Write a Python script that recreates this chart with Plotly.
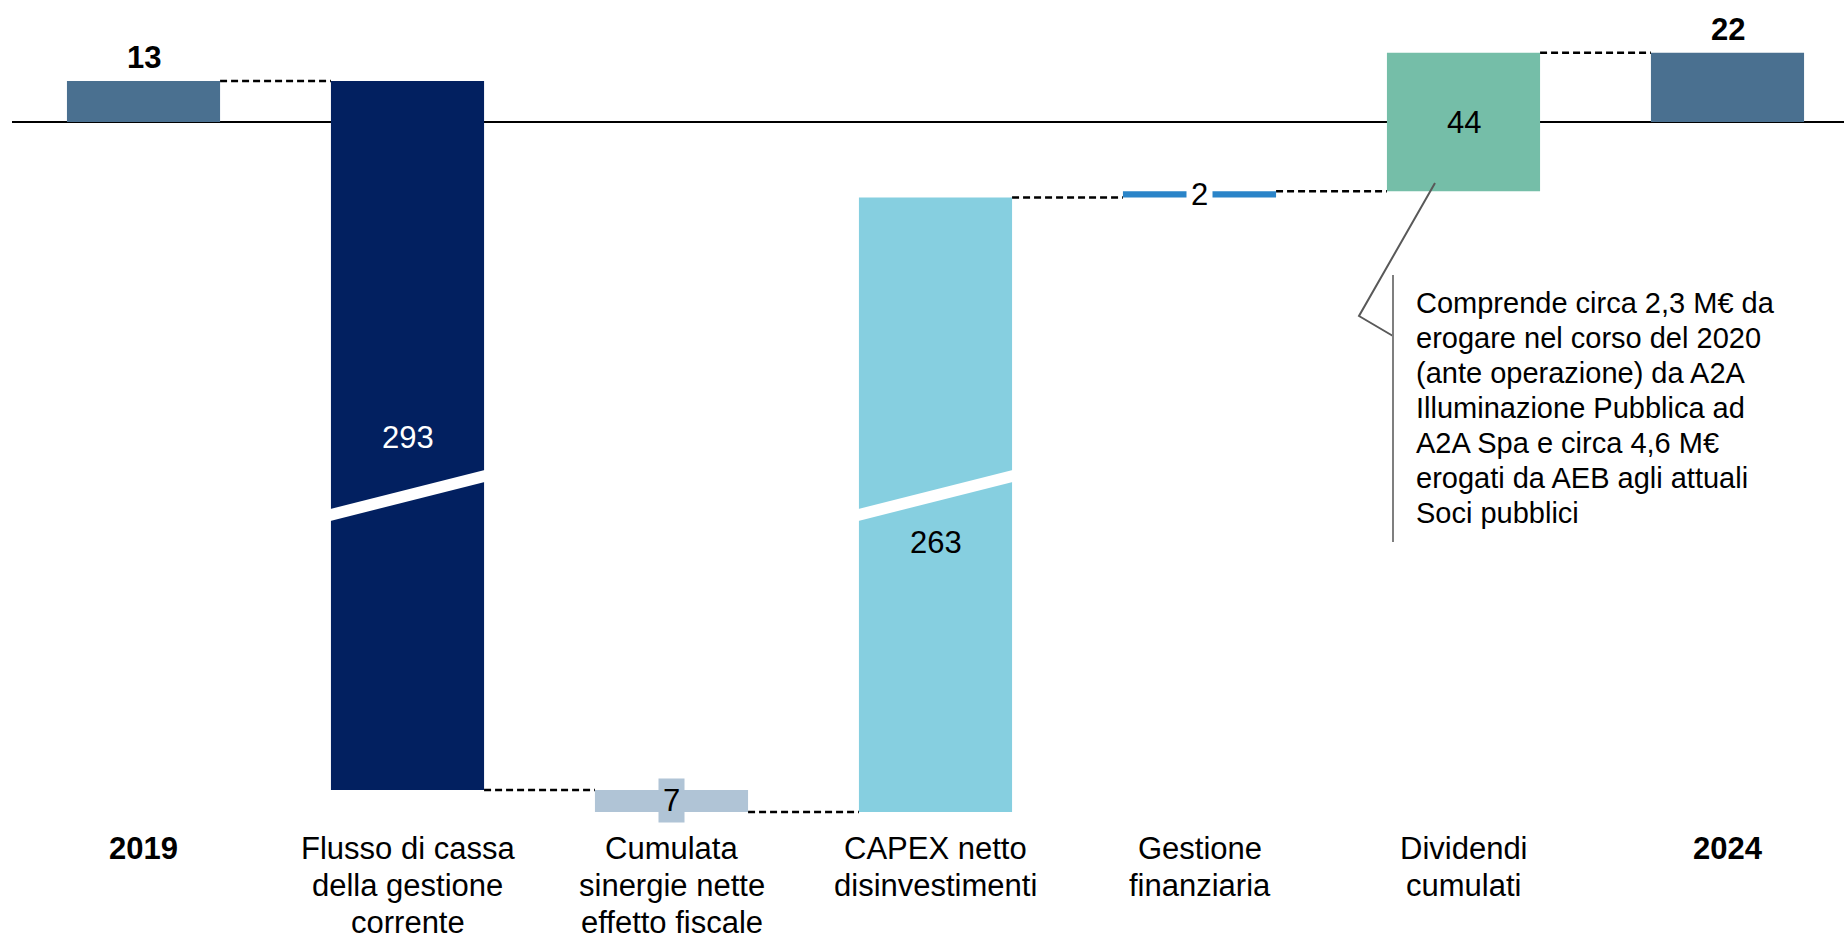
import plotly.graph_objects as go

# ---------------- data ----------------
categories = ["<b>2019</b>", "Flusso di cassa<br>della gestione<br>corrente",
              "Cumulata<br>sinergie nette<br>effetto fiscale", "CAPEX netto<br>disinvestimenti",
              "Gestione<br>finanziaria", "Dividendi<br>cumulati", "<b>2024</b>"]
values = [13, -293, -7, 263, 2, 44, 22]
measures = ["total", "relative", "relative", "relative", "relative", "relative", "total"]
value_labels = ["13", "293", "7", "263", "2", "44", "22"]
bar_colors = ["#4a7090", "#022060", "#b0c4d6", "#86cfe0", "#2a84c8", "#75bea8", "#4a7090"]
note_lines = ["Comprende circa 2,3 M€ da", "erogare nel corso del 2020",
              "(ante operazione) da A2A", "Illuminazione Pubblica ad",
              "A2A Spa e circa 4,6 M€", "erogati da AEB agli attuali", "Soci pubblici"]

# ---------------- layout constants ----------------
W, H = 1844, 943
X_RANGE = [-0.5436, 6.4413]
Y_RANGE = [-260.6, 38.73]
BAR_W = 0.58
BREAK_AT = -150      # values below this are shifted up (broken axis)
BREAK_GAP = 68       # amount of axis removed by the break
FONT = "Liberation Sans, Arial, sans-serif"


def disp(v):
    return v + BREAK_GAP if v < BREAK_AT else v


def px2x(px):
    return X_RANGE[0] + px / W * (X_RANGE[1] - X_RANGE[0])


def px2y(py):
    return Y_RANGE[1] - py / H * (Y_RANGE[1] - Y_RANGE[0])


# waterfall levels
starts, ends = [], []
level = 0
for v, m in zip(values, measures):
    if m == "total":
        s, e = 0, v
        level = v
    else:
        s, e = level, level + v
        level = e
    starts.append(s)
    ends.append(e)

xs = list(range(len(categories)))
bases = [disp(s) for s in starts]
heights = [disp(e) - disp(s) for s, e in zip(starts, ends)]

fig = go.Figure()
fig.add_trace(go.Bar(
    x=xs, y=heights, base=bases, width=BAR_W,
    marker=dict(color=bar_colors, line=dict(width=0)),
    hoverinfo="skip", showlegend=False,
))

shapes = []
# baseline
shapes.append(dict(type="line", xref="paper", yref="y", x0=12 / W, x1=1, y0=0, y1=0,
                   line=dict(color="black", width=2), layer="below"))
# connectors
for i in range(len(xs) - 1):
    lvl = disp(ends[i])
    shapes.append(dict(type="line", xref="x", yref="y",
                       x0=xs[i] + BAR_W / 2, x1=xs[i + 1] - BAR_W / 2, y0=lvl, y1=lvl,
                       line=dict(color="black", width=2.5, dash="7px,4px"), layer="below"))
# axis-break stripes on the bars that cross the break
BRK_L, BRK_R, BRK_T = -124.9, -112.2, 3.8
for i in xs:
    lo, hi = sorted([starts[i], ends[i]])
    if lo < BREAK_AT < hi:
        x0, x1 = xs[i] - BAR_W / 2 - 0.01, xs[i] + BAR_W / 2 + 0.01
        path = (f"M {x0},{BRK_L + BRK_T / 2} L {x1},{BRK_R + BRK_T / 2} "
                f"L {x1},{BRK_R - BRK_T / 2} L {x0},{BRK_L - BRK_T / 2} Z")
        shapes.append(dict(type="path", xref="x", yref="y", path=path,
                           fillcolor="white", line=dict(width=0), layer="above"))

# callout leader
p1, p2, p3 = (1435, 183), (1359, 316), (1393, 336)
shapes.append(dict(type="path", xref="x", yref="y",
                   path=f"M {px2x(p1[0])},{px2y(p1[1])} L {px2x(p2[0])},{px2y(p2[1])} L {px2x(p3[0])},{px2y(p3[1])}",
                   line=dict(color="#595959", width=2), layer="above"))
shapes.append(dict(type="line", xref="x", yref="y", x0=px2x(1393), x1=px2x(1393),
                   y0=px2y(275), y1=px2y(542), line=dict(color="#7f7f7f", width=2)))

annotations = []
# category labels (one annotation per line for tighter line spacing)
for i, c in enumerate(categories):
    for j, part in enumerate(c.split("<br>")):
        annotations.append(dict(x=xs[i], y=px2y(848 + 37 * j), xref="x", yref="y", text=part,
                                showarrow=False, xanchor="center", yanchor="middle", borderpad=0,
                                font=dict(family=FONT, size=31, color="black")))

# value labels
for i, lab in enumerate(value_labels):
    top, bot = max(bases[i], bases[i] + heights[i]), min(bases[i], bases[i] + heights[i])
    kw = dict(x=xs[i], xref="x", yref="y", showarrow=False, xanchor="center",
              font=dict(family=FONT, size=31, color="black"))
    if measures[i] == "total":
        kw.update(y=top, yanchor="bottom", text=f"<b>{lab}</b>", yshift=4)
    elif i == 1:
        kw.update(y=px2y(437), yanchor="middle", text=lab, font=dict(family=FONT, size=31, color="white"))
    elif i == 3:
        kw.update(y=px2y(542), yanchor="middle", text=lab)
    elif i == 2:
        kw.update(y=(top + bot) / 2, yanchor="middle", text=lab, bgcolor=bar_colors[i], borderpad=4)
    elif i == 4:
        kw.update(y=(top + bot) / 2, yanchor="middle", text=lab, bgcolor="white", borderpad=4)
    else:
        kw.update(y=0, yanchor="middle", text=lab)
    annotations.append(kw)

# note text
for j, line in enumerate(note_lines):
    annotations.append(dict(x=px2x(1414), y=px2y(303 + 35 * j), xref="x", yref="y", text=line,
                            showarrow=False, xanchor="left", yanchor="middle",
                            font=dict(family=FONT, size=29, color="black")))

fig.update_layout(
    width=W, height=H, margin=dict(l=0, r=0, t=0, b=0),
    paper_bgcolor="white", plot_bgcolor="white",
    xaxis=dict(range=X_RANGE, visible=False, fixedrange=True),
    yaxis=dict(range=Y_RANGE, visible=False, fixedrange=True),
    shapes=shapes, annotations=annotations, showlegend=False,
)

fig.write_html("out.html")
